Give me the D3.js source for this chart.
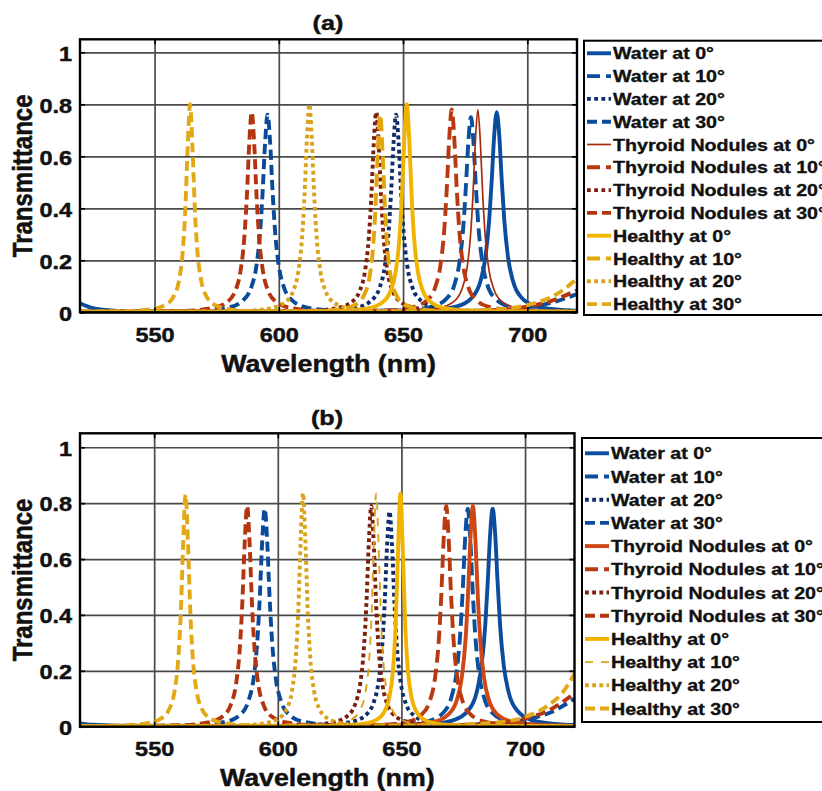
<!DOCTYPE html>
<html>
<head>
<meta charset="utf-8">
<script src="https://cdn.jsdelivr.net/npm/d3@7"></script>
<style>
  body { margin: 0; background: #fff; }
  svg { display: block; font-family: "Liberation Sans", Arial, sans-serif; font-weight: bold; }
</style>
</head>
<body>
<svg id="chart" width="822" height="791"></svg>
<script>
// ---- axis ticks and labels ----
const wavelengthTicks = [550, 600, 650, 700];
const transmittanceTicks = [0, 0.2, 0.4, 0.6, 0.8, 1];
const transmittanceLabels = ["0", "0.2", "0.4", "0.6", "0.8", "1"];
const legendLabels = [
  "Water at 0°", "Water at 10°", "Water at 20°", "Water at 30°",
  "Thyroid Nodules at 0°", "Thyroid Nodules at 10°", "Thyroid Nodules at 20°", "Thyroid Nodules at 30°",
  "Healthy at 0°", "Healthy at 10°", "Healthy at 20°", "Healthy at 30°"
];

// ---- panel (a): transmittance spectra [wavelength nm, T] ----
const aWater0 = [[520,.035],[525,.016],[530,.009],[540,.004],[600,.003],[659.7,.008],[671.7,.023],[677.7,.056],[681.2,.121],[683.2,.215],[684.7,.359],[685.7,.51],[686.7,.683],[687.7,.77],[688.7,.683],[689.7,.51],[690.7,.359],[692.2,.215],[694.2,.121],[697.7,.056],[703.7,.023],[715.7,.008],[720,.006]];
const aWater10 = [[520,.002],[600,.002],[649.3,.007],[661.3,.021],[667.3,.051],[670.8,.11],[672.8,.199],[674.3,.335],[675.3,.485],[676.3,.659],[677.3,.75],[678.3,.659],[679.3,.485],[680.3,.335],[681.8,.199],[683.8,.11],[687.3,.051],[693.3,.021],[705.3,.007],[720,.004]];
const aWater20 = [[520,.002],[600,.003],[619.2,.006],[631.2,.018],[637.2,.045],[640.7,.098],[642.7,.179],[644.2,.312],[645.2,.464],[646.2,.655],[647.2,.76],[648.2,.655],[649.2,.464],[650.2,.312],[651.7,.179],[653.7,.098],[657.2,.045],[663.2,.018],[675.2,.006],[720,.002]];
const aWater30 = [[520,.002],[560,.003],[567.5,.006],[579.5,.018],[585.5,.045],[589,.098],[591,.179],[592.5,.312],[593.5,.464],[594.5,.655],[595.5,.76],[596.5,.655],[597.5,.464],[598.5,.312],[600,.179],[602,.098],[605.5,.045],[611.5,.018],[623.5,.006],[660,.003],[690,.008],[700,.018],[710,.038],[720,.07]];
const aThyroid0 = [[520,.002],[600,.002],[652.1,.005],[664.1,.016],[670.1,.039],[673.6,.087],[675.6,.161],[677.1,.289],[678.1,.444],[679.1,.656],[680.1,.78],[681.1,.656],[682.1,.444],[683.1,.289],[684.6,.161],[686.6,.087],[690.1,.039],[696.1,.016],[708.1,.005],[720,.003]];
const aThyroid10 = [[520,.002],[600,.002],[641.6,.006],[653.6,.019],[659.6,.046],[663.1,.101],[665.1,.184],[666.6,.32],[667.6,.476],[668.6,.672],[669.6,.78],[670.6,.672],[671.6,.476],[672.6,.32],[674.1,.184],[676.1,.101],[679.6,.046],[685.6,.019],[697.6,.006],[720,.003]];
const aThyroid20 = [[520,.002],[580,.002],[611.2,.005],[623.2,.016],[629.2,.039],[632.7,.085],[634.7,.159],[636.2,.285],[637.2,.438],[638.2,.648],[639.2,.77],[640.2,.648],[641.2,.438],[642.2,.285],[643.7,.159],[645.7,.085],[649.2,.039],[655.2,.016],[667.2,.005],[720,.002]];
const aThyroid30 = [[520,.002],[561.1,.005],[573.1,.016],[579.1,.039],[582.6,.085],[584.6,.159],[586.1,.285],[587.1,.438],[588.1,.648],[589.1,.77],[590.1,.648],[591.1,.438],[592.1,.285],[593.6,.159],[595.6,.085],[599.1,.039],[605.1,.016],[617.1,.005],[660,.004],[690,.01],[700,.022],[710,.045],[720,.085]];
const aHealthy0 = [[520,.002],[600,.002],[623.5,.005],[635.5,.015],[641.5,.037],[645,.082],[647,.154],[648.5,.28],[649.5,.438],[650.5,.663],[651.5,.8],[652.5,.663],[653.5,.438],[654.5,.28],[656,.154],[658,.082],[661.5,.037],[667.5,.015],[679.5,.005],[720,.002]];
const aHealthy10 = [[520,.002],[580,.002],[612.8,.004],[624.8,.012],[630.8,.029],[634.3,.066],[636.3,.125],[637.8,.234],[638.8,.38],[639.8,.608],[640.8,.76],[641.8,.608],[642.8,.38],[643.8,.234],[645.3,.125],[647.3,.066],[650.8,.029],[656.8,.012],[668.8,.004],[720,.002]];
const aHealthy20 = [[520,.002],[584.3,.005],[596.3,.015],[602.3,.037],[605.8,.082],[607.8,.154],[609.3,.28],[610.3,.438],[611.3,.663],[612.3,.8],[613.3,.663],[614.3,.438],[615.3,.28],[616.8,.154],[618.8,.082],[622.3,.037],[628.3,.015],[640.3,.005],[720,.002]];
const aHealthy30 = [[520,.002],[536.3,.004],[548.3,.011],[554.3,.028],[557.8,.063],[559.8,.121],[561.3,.229],[562.3,.379],[563.3,.626],[564.3,.8],[565.3,.626],[566.3,.379],[567.3,.229],[568.8,.121],[570.8,.063],[574.3,.028],[580.3,.011],[592.3,.004],[660,.004],[690,.012],[700,.028],[710,.06],[715,.09],[720,.13]];

// ---- panel (b): transmittance spectra [wavelength nm, T] ----
const bWater0 = [[520,.012],[525,.007],[535,.004],[600,.003],[658.9,.008],[670.9,.023],[676.9,.057],[680.4,.122],[682.4,.218],[683.9,.363],[684.9,.516],[685.9,.692],[686.9,.78],[687.9,.692],[688.9,.516],[689.9,.363],[691.4,.218],[693.4,.122],[696.9,.057],[702.9,.023],[714.9,.008],[720,.006]];
const bWater10 = [[520,.002],[600,.002],[648.8,.007],[660.8,.02],[666.8,.049],[670.3,.108],[672.3,.195],[673.8,.335],[674.8,.49],[675.8,.679],[676.8,.78],[677.8,.679],[678.8,.49],[679.8,.335],[681.3,.195],[683.3,.108],[686.8,.049],[692.8,.02],[704.8,.007],[720,.004]];
const bWater20 = [[520,.002],[580,.002],[617.2,.005],[629.2,.016],[635.2,.039],[638.7,.085],[640.7,.159],[642.2,.285],[643.2,.438],[644.2,.648],[645.2,.77],[646.2,.648],[647.2,.438],[648.2,.285],[649.7,.159],[651.7,.085],[655.2,.039],[661.2,.016],[673.2,.005],[720,.002]];
const bWater30 = [[520,.002],[560,.003],[566.7,.006],[578.7,.017],[584.7,.042],[588.2,.094],[590.2,.172],[591.7,.304],[592.7,.46],[593.7,.665],[594.7,.78],[595.7,.665],[596.7,.46],[597.7,.304],[599.2,.172],[601.2,.094],[604.7,.042],[610.7,.017],[622.7,.006],[660,.004],[690,.012],[700,.025],[710,.05],[720,.1]];
const bThyroid0 = [[520,.002],[600,.002],[650.9,.006],[662.9,.017],[668.9,.043],[672.4,.095],[674.4,.175],[675.9,.308],[676.9,.466],[677.9,.673],[678.9,.79],[679.9,.673],[680.9,.466],[681.9,.308],[683.4,.175],[685.4,.095],[688.9,.043],[694.9,.017],[706.9,.006],[720,.003]];
const bThyroid10 = [[520,.002],[600,.002],[640.1,.006],[652.1,.017],[658.1,.043],[661.6,.095],[663.6,.175],[665.1,.308],[666.1,.466],[667.1,.673],[668.1,.79],[669.1,.673],[670.1,.466],[671.1,.308],[672.6,.175],[674.6,.095],[678.1,.043],[684.1,.017],[696.1,.006],[720,.003]];
const bThyroid20 = [[520,.002],[580,.002],[609.8,.005],[621.8,.015],[627.8,.036],[631.3,.081],[633.3,.152],[634.8,.277],[635.8,.433],[636.8,.655],[637.8,.79],[638.8,.655],[639.8,.433],[640.8,.277],[642.3,.152],[644.3,.081],[647.8,.036],[653.8,.015],[665.8,.005],[720,.002]];
const bThyroid30 = [[520,.002],[559.6,.005],[571.6,.015],[577.6,.036],[581.1,.081],[583.1,.152],[584.6,.277],[585.6,.433],[586.6,.655],[587.6,.79],[588.6,.655],[589.6,.433],[590.6,.277],[592.1,.152],[594.1,.081],[597.6,.036],[603.6,.015],[615.6,.005],[660,.004],[690,.014],[700,.03],[710,.06],[720,.12]];
const bHealthy0 = [[520,.002],[600,.002],[621.6,.003],[633.6,.009],[639.6,.023],[643.1,.053],[645.1,.104],[646.6,.203],[647.6,.35],[648.6,.62],[649.6,.835],[650.6,.62],[651.6,.35],[652.6,.203],[654.1,.104],[656.1,.053],[659.6,.023],[665.6,.009],[677.6,.003],[720,.002]];
const bHealthy10 = [[520,.002],[580,.002],[611.8,.003],[623.8,.01],[629.8,.026],[633.3,.06],[635.3,.115],[636.8,.221],[637.8,.373],[638.8,.638],[639.8,.835],[640.8,.638],[641.8,.373],[642.8,.221],[644.3,.115],[646.3,.06],[649.8,.026],[655.8,.01],[667.8,.003],[720,.002]];
const bHealthy20 = [[520,.002],[582.2,.004],[594.2,.012],[600.2,.029],[603.7,.066],[605.7,.126],[607.2,.239],[608.2,.396],[609.2,.654],[610.2,.835],[611.2,.654],[612.2,.396],[613.2,.239],[614.7,.126],[616.7,.066],[620.2,.029],[626.2,.012],[638.2,.004],[720,.002]];
const bHealthy30 = [[520,.002],[534.7,.004],[546.7,.012],[552.7,.029],[556.2,.065],[558.2,.125],[559.7,.237],[560.7,.393],[561.7,.65],[562.7,.83],[563.7,.65],[564.7,.393],[565.7,.237],[567.2,.125],[569.2,.065],[572.7,.029],[578.7,.012],[590.7,.004],[660,.005],[690,.016],[700,.035],[710,.08],[715,.12],[720,.19]];

const panelASeries = [aWater0, aWater10, aWater20, aWater30, aThyroid0, aThyroid10, aThyroid20, aThyroid30, aHealthy0, aHealthy10, aHealthy20, aHealthy30];
const panelBSeries = [bWater0, bWater10, bWater20, bWater30, bThyroid0, bThyroid10, bThyroid20, bThyroid30, bHealthy0, bHealthy10, bHealthy20, bHealthy30];

// ---- line styles ----
const DASH_LONG = "13,6", DASH_MED = "10,5", DOT = "3.8,3.4";
const LW = 3.9;
const stylesA = [
  { color: "#0c4c9e", width: LW, dash: null },
  { color: "#0b4f9f", width: LW, dash: DASH_LONG },
  { color: "#0d2e6e", width: LW, dash: DOT },
  { color: "#0b4a9a", width: LW, dash: DASH_MED },
  { color: "#a62c0c", width: 1.7, dash: null },
  { color: "#b93a10", width: LW, dash: DASH_LONG },
  { color: "#7e1f0c", width: LW, dash: DOT },
  { color: "#b3340f", width: LW, dash: DASH_MED },
  { color: "#f0b400", width: LW, dash: null },
  { color: "#e3a70e", width: LW, dash: DASH_LONG },
  { color: "#d9a21a", width: LW, dash: DOT },
  { color: "#e2a815", width: LW, dash: DASH_MED }
];
const stylesB = stylesA.map(s => Object.assign({}, s));
stylesB[4] = { color: "#cf4714", width: LW, dash: null };
stylesB[9] = { color: "#dba31c", width: 1.9, dash: "8,8" };

const svg = d3.select("#chart");
const TEXT_STROKE = 0.45;

function drawPanel(cfg) {
  const x = d3.scaleLinear().domain([520, 720]).range([cfg.left, cfg.right]);
  const y = d3.scaleLinear().domain([0, 1.05]).range([cfg.bottom, cfg.top]);
  const W = cfg.right - cfg.left, H = cfg.bottom - cfg.top;
  const g = svg.append("g");

  // grid
  g.append("g").attr("transform", `translate(0,${cfg.bottom})`)
    .call(d3.axisBottom(x).tickValues(wavelengthTicks).tickSize(-H).tickFormat(""))
    .call(s => s.select(".domain").remove())
    .call(s => s.selectAll("line").attr("stroke", "#4a4a4a").attr("stroke-width", 1.7));
  g.append("g").attr("transform", `translate(${cfg.left},0)`)
    .call(d3.axisLeft(y).tickValues(transmittanceTicks).tickSize(-W).tickFormat(""))
    .call(s => s.select(".domain").remove())
    .call(s => s.selectAll("line").attr("stroke", "#4a4a4a").attr("stroke-width", 1.7));

  // spectra
  const clipId = "clip-" + cfg.id;
  svg.append("defs").append("clipPath").attr("id", clipId)
    .append("rect").attr("x", cfg.left).attr("y", cfg.top).attr("width", W).attr("height", H);
  const line = d3.line().x(d => x(d[0])).y(d => y(d[1])).curve(d3.curveMonotoneX);
  const lines = g.append("g").attr("clip-path", `url(#${clipId})`);
  cfg.series.forEach((data, i) => {
    const st = cfg.styles[i];
    lines.append("path").datum(data)
      .attr("d", line)
      .attr("fill", "none")
      .attr("stroke", st.color)
      .attr("stroke-width", st.width)
      .attr("stroke-dasharray", st.dash)
      .attr("stroke-linejoin", "round");
  });

  // frame with inward ticks on all sides
  const tickStyle = s => s.selectAll("line").attr("stroke", "#000").attr("stroke-width", 1.7);
  const bottomAxis = g.append("g").attr("transform", `translate(0,${cfg.bottom})`)
    .call(d3.axisBottom(x).tickValues(wavelengthTicks).tickSize(-5).tickPadding(14.8).tickSizeOuter(0))
    .call(tickStyle);
  g.append("g").attr("transform", `translate(0,${cfg.top})`)
    .call(d3.axisTop(x).tickValues(wavelengthTicks).tickSize(-5).tickFormat("").tickSizeOuter(0))
    .call(tickStyle);
  const leftAxis = g.append("g").attr("transform", `translate(${cfg.left},0)`)
    .call(d3.axisLeft(y).tickValues(transmittanceTicks).tickSize(-5).tickPadding(7)
      .tickFormat((d, i) => transmittanceLabels[i]).tickSizeOuter(0))
    .call(tickStyle);
  g.append("g").attr("transform", `translate(${cfg.right},0)`)
    .call(d3.axisRight(y).tickValues(transmittanceTicks).tickSize(-5).tickFormat("").tickSizeOuter(0))
    .call(tickStyle);
  g.selectAll(".domain").remove();
  g.append("rect").attr("x", cfg.left).attr("y", cfg.top).attr("width", W).attr("height", H)
    .attr("fill", "none").attr("stroke", "#000").attr("stroke-width", 2.4);

  [bottomAxis, leftAxis].forEach(ax => ax.selectAll("text")
    .attr("font-family", "Liberation Sans, Arial, sans-serif")
    .attr("font-weight", "bold").attr("font-size", 21).attr("fill", "#111")
    .attr("stroke", "#111").attr("stroke-width", TEXT_STROKE)
    .attr("transform", "scale(1.12,1)"));
  leftAxis.selectAll("text").attr("dy", "0.37em");

  // titles
  const label = sel => sel.attr("fill", "#111").attr("stroke", "#111").attr("stroke-width", TEXT_STROKE);
  g.append("text").attr("transform", `translate(${cfg.titleX},${cfg.titleY}) scale(1.2,1)`)
    .attr("text-anchor", "middle").attr("font-size", 21).call(label).text(cfg.title);
  g.append("text").attr("transform", `translate(${(cfg.left + cfg.right) / 2},${cfg.bottom + 59.5}) scale(1.14,1)`)
    .attr("text-anchor", "middle").attr("font-size", 23.5).call(label).text("Wavelength (nm)");
  g.append("text").attr("transform", `translate(31.5,${(cfg.top + cfg.bottom) / 2}) rotate(-90) scale(1,1.16)`)
    .attr("text-anchor", "middle").attr("font-size", 24).call(label).text("Transmittance");

  // legend
  const lg = g.append("g");
  lg.append("rect").attr("x", cfg.legend.x).attr("y", cfg.legend.y)
    .attr("width", 260).attr("height", cfg.legend.h)
    .attr("fill", "#fff").attr("stroke", "#000").attr("stroke-width", 2);
  legendLabels.forEach((lab, i) => {
    const st = cfg.styles[i];
    const cy = cfg.legend.row0 + i * cfg.legend.step;
    lg.append("line").attr("x1", cfg.legend.x + 3).attr("x2", cfg.legend.x + 27)
      .attr("y1", cy).attr("y2", cy)
      .attr("stroke", st.color).attr("stroke-width", Math.max(st.width, 1.7))
      .attr("stroke-dasharray", st.dash);
    lg.append("text").attr("transform", `translate(${cfg.legend.x + 29},${cy + 6}) scale(1.19,1)`)
      .attr("font-size", 16.5).call(label).attr("stroke-width", 0.35).text(lab);
  });
}

drawPanel({
  id: "a", left: 80, right: 577, top: 39.3, bottom: 312.3,
  series: panelASeries, styles: stylesA,
  title: "(a)", titleX: 328, titleY: 30,
  legend: { x: 584, y: 40.7, h: 274.3, row0: 53.3, step: 22.8 }
});
drawPanel({
  id: "b", left: 80, right: 574.5, top: 433.3, bottom: 726.7,
  series: panelBSeries, styles: stylesB,
  title: "(b)", titleX: 327, titleY: 424.5,
  legend: { x: 582, y: 438, h: 284, row0: 453.3, step: 23.2 }
});
</script>
</body>
</html>
